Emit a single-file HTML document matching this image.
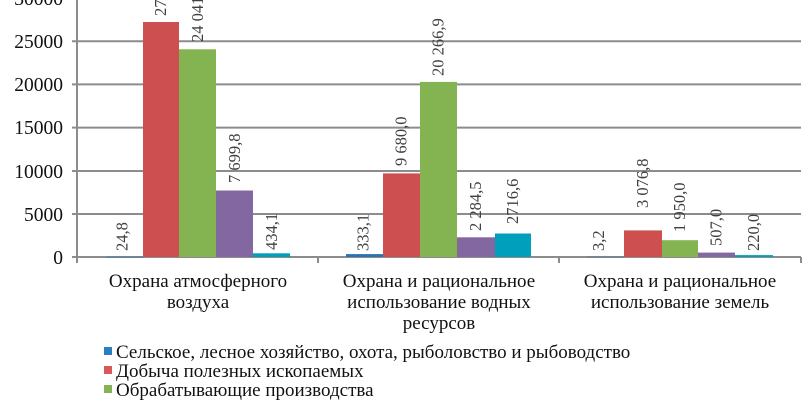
<!DOCTYPE html>
<html><head><meta charset="utf-8"><style>body{margin:0;background:#fff}svg{display:block}text{font-family:"Liberation Serif","Times New Roman",serif}</style></head><body>
<svg width="811" height="400" xmlns="http://www.w3.org/2000/svg">
<g stroke="#8c8c8c" stroke-width="2">
<line x1="72" y1="257" x2="801" y2="257"/>
<line x1="72" y1="214" x2="801" y2="214"/>
<line x1="72" y1="171" x2="801" y2="171"/>
<line x1="72" y1="127.6" x2="801" y2="127.6"/>
<line x1="72" y1="84.4" x2="801" y2="84.4"/>
<line x1="72" y1="41.2" x2="801" y2="41.2"/>
<line x1="72" y1="-2" x2="801" y2="-2"/>
<line x1="77" y1="0" x2="77" y2="263"/>
<line x1="318" y1="257" x2="318" y2="263"/>
<line x1="559" y1="257" x2="559" y2="263"/>
<line x1="801" y1="257" x2="801" y2="263"/>
</g>
<g font-size="19.5" fill="#111" text-anchor="end">
<text x="63" y="264">0</text><text x="63" y="221">5000</text><text x="63" y="178">10000</text>
<text x="63" y="134">15000</text><text x="63" y="91">20000</text><text x="63" y="48">25000</text><text x="63" y="5">30000</text>
</g>
<g>
<rect x="106" y="256.8" width="37" height="0.6" fill="#2a72b5"/>
<rect x="143" y="22" width="36" height="235" fill="#cd4f4f"/>
<rect x="179" y="49.3" width="37" height="207.7" fill="#84b451"/>
<rect x="216" y="190.5" width="37" height="66.5" fill="#8367a1"/>
<rect x="253" y="253.3" width="37" height="3.7" fill="#00a0bd"/>
<rect x="346" y="254.1" width="37" height="2.9" fill="#2a72b5"/>
<rect x="383" y="173.4" width="37" height="83.6" fill="#cd4f4f"/>
<rect x="420" y="81.9" width="37" height="175.1" fill="#84b451"/>
<rect x="457" y="237.3" width="38" height="19.7" fill="#8367a1"/>
<rect x="495" y="233.5" width="36" height="23.5" fill="#00a0bd"/>
<rect x="587" y="256.8" width="37" height="0.4" fill="#2a72b5"/>
<rect x="624" y="230.4" width="38" height="26.6" fill="#cd4f4f"/>
<rect x="662" y="240.2" width="36" height="16.8" fill="#84b451"/>
<rect x="698" y="252.6" width="37" height="4.4" fill="#8367a1"/>
<rect x="735" y="255.1" width="38" height="1.9" fill="#00a0bd"/>
</g>
<g font-size="16.5" fill="#404040">
<text transform="translate(127.5,251) rotate(-90)">24,8</text>
<text transform="translate(166,16) rotate(-90)">27 221,4</text>
<text transform="translate(203,42) rotate(-90)">24 041,6</text>
<text transform="translate(240,183) rotate(-90)">7 699,8</text>
<text transform="translate(277,250) rotate(-90)">434,1</text>
<text transform="translate(368.5,251) rotate(-90)">333,1</text>
<text transform="translate(406.5,166) rotate(-90)">9 680,0</text>
<text transform="translate(443.5,76) rotate(-90)">20 266,9</text>
<text transform="translate(481,231) rotate(-90)">2 284,5</text>
<text transform="translate(518,224) rotate(-90)">2716,6</text>
<text transform="translate(604,251) rotate(-90)">3,2</text>
<text transform="translate(648,208) rotate(-90)">3 076,8</text>
<text transform="translate(685,232) rotate(-90)">1 950,0</text>
<text transform="translate(721.5,246) rotate(-90)">507,0</text>
<text transform="translate(759,251) rotate(-90)">220,0</text>
</g>
<g font-size="19" fill="#111" text-anchor="middle">
<text x="198" y="287">Охрана атмосферного</text><text x="198" y="308">воздуха</text>
<text x="439" y="287">Охрана и рациональное</text><text x="439" y="308">использование водных</text><text x="439" y="329">ресурсов</text>
<text x="680" y="287">Охрана и рациональное</text><text x="680" y="308">использование земель</text>
</g>
<rect x="104" y="347" width="8" height="8" fill="#2a7fc0"/>
<rect x="104" y="366" width="8" height="8" fill="#d9595b"/>
<rect x="104" y="385" width="8" height="8" fill="#84b451"/>
<g font-size="19" fill="#111">
<text x="116" y="358">Сельское, лесное хозяйство, охота, рыболовство и рыбоводство</text>
<text x="116" y="377">Добыча полезных ископаемых</text>
<text x="116" y="396">Обрабатывающие производства</text>
</g>
</svg>
</body></html>
